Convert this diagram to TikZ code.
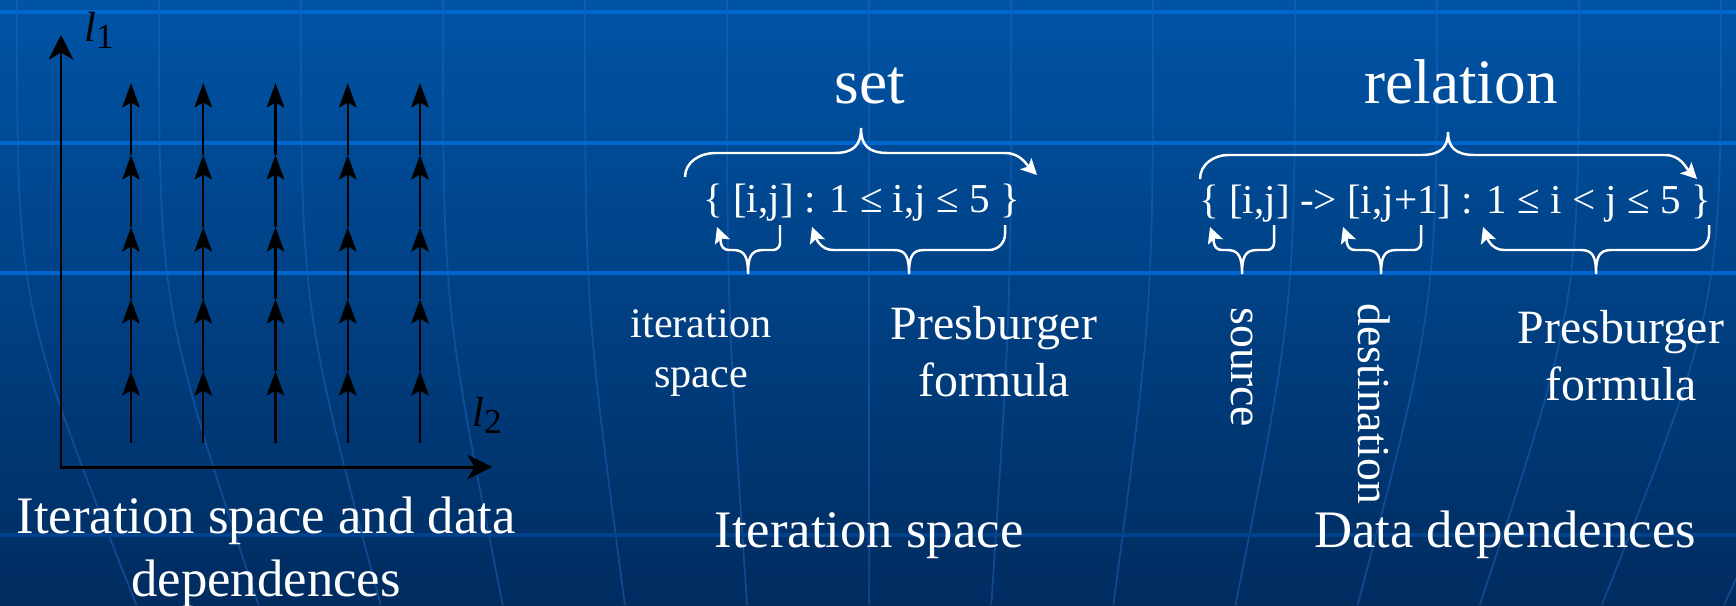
\documentclass[tikz,border=0pt]{standalone}
\usepackage{fontspec}
\setmainfont{Liberation Serif}
\usetikzlibrary{arrows.meta}

\definecolor{bgtop}{RGB}{0,84,166}
\definecolor{bgbottom}{RGB}{0,44,96}
\definecolor{gridblue}{RGB}{0,102,206}
\definecolor{curveblue}{RGB}{30,100,190}

\begin{document}
\begin{tikzpicture}[every node/.style={text=white, inner sep=0pt},
    axis/.style={line width=0.85pt, {Stealth[length=7pt,width=7pt,inset=2pt]}-{Stealth[length=7pt,width=7pt,inset=2pt]}},
    dep/.style={line width=0.65pt, -{Stealth[length=7pt,width=5pt,inset=1.5pt]}},
    brace/.style={white, line width=0.7pt, -{Stealth[length=4.5pt,width=4.5pt,inset=1pt]}},
    title/.style={anchor=base, font=\fontsize{18}{21}\selectfont},
    formula/.style={anchor=base, font=\fontsize{11.7}{14}\selectfont},
    caption/.style={font=\fontsize{15}{18}\selectfont},
    note/.style={anchor=north, align=center}]
    % background
    \useasboundingbox (0,0) rectangle (17.36,6.05);
    \shade[top color=bgtop, bottom color=bgbottom] (0,0) rectangle (17.36,6.05);
    \begin{scope}
        \clip (0,0) rectangle (17.36,6.05);
        \foreach \k in {0,...,13} {
            \pgfmathsetmacro\xt{0.17+1.42*\k}
            \pgfmathsetmacro\xb{\xt+0.14*(8.7-\xt)}
            \draw[curveblue, opacity=0.5, line width=0.5pt] (\xt,6.05) .. controls (\xt,3.0) .. (\xb,0);
        }
    \end{scope}
    \foreach \y in {5.93,4.62,3.32}
        \draw[gridblue, line width=1.1pt] (0,\y) -- (17.36,\y);
    \draw[gridblue!40!bgbottom, line width=1pt] (0,0.70) -- (17.36,0.70);

    % axes
    \coordinate (O) at (0.61,1.38);
    \coordinate (l1end) at (0.61,5.70);
    \coordinate (l2end) at (4.92,1.38);
    \draw[axis] (l1end) -- (O) -- (l2end);
    \node[text=black, font=\fontsize{12}{14}\selectfont] (l1) at (0.99,5.75) {\textit{l}\raisebox{-0.35ex}{\fontsize{10}{10}\selectfont 1}};
    \node[text=black, font=\fontsize{12}{14}\selectfont] (l2) at (4.87,1.90) {\textit{l}\raisebox{-0.35ex}{\fontsize{10}{10}\selectfont 2}};

    % iteration points and dependences
    \foreach \i in {1,...,5}
        \foreach \j in {0,...,5}
            \coordinate (p\i\j) at ({1.31+0.7225*(\i-1)},{1.62+0.72*\j});
    \foreach \i in {1,...,5}
        \foreach \j [count=\k from 1] in {0,...,4}
            \draw[dep] (p\i\j) -- (p\i\k);

    % set
    \node[title] (set) at (8.70,5.02) {set};
    \node[formula] (setf) at (8.615,3.93) {\{ [i,j] : 1 ≤ i,j ≤ 5 \}};
    \coordinate (setL) at (6.85,4.28);
    \coordinate (setR) at (10.37,4.30);
    \draw[brace] (setL) to[out=90,in=180] (7.15,4.52) -- (8.34,4.52) .. controls (8.54,4.52) and (8.61,4.60) .. (8.61,4.77)
        .. controls (8.61,4.60) and (8.68,4.52) .. (8.88,4.52) -- (10.05,4.52) to[out=0,in=135] (setR);

    % relation
    \node[title] (rel) at (14.61,5.02) {relation};
    \node[formula] (relf) at (14.55,3.92) {\{ [i,j] -> [i,j+1] : 1 ≤ i < j ≤ 5 \}};
    \coordinate (relL) at (12.00,4.26);
    \coordinate (relR) at (16.97,4.26);
    \draw[brace] (relL) to[out=90,in=180] (12.28,4.50) -- (14.21,4.50) .. controls (14.41,4.50) and (14.48,4.58) .. (14.48,4.73)
        .. controls (14.48,4.58) and (14.55,4.50) .. (14.75,4.50) -- (16.65,4.50) to[out=0,in=135] (relR);

    % parts of the formulas
    \foreach \nm/\t/\c/\e/\rad in {iter/7.17/7.48/7.80/0.07, spres/8.12/9.09/10.05/0.16,
            src/12.10/12.42/12.74/0.07, dst/13.43/13.81/14.21/0.07, rpres/14.83/15.96/17.09/0.16} {
        \coordinate (\nm-tip) at (\t,3.78);
        \coordinate (\nm-end) at (\e,3.80);
        \draw[brace] (\nm-end) -- (\e,3.55+\rad) to[out=-90,in=0] (\e-\rad,3.55) -- (\c+0.15,3.55)
            .. controls (\c+0.03,3.55) and (\c,3.48) .. (\c,3.31) .. controls (\c,3.48) and (\c-0.03,3.55) .. (\c-0.15,3.55)
            -- (\t+\rad+0.05,3.55) to[out=180,in=-70] (\nm-tip);
    }
    \node[note, font=\fontsize{12}{14.2}\selectfont] (itlab) at (7.01,2.96) {iteration\\space};
    \node[note, font=\fontsize{13.6}{16}\selectfont] (splab) at (9.94,2.99) {Presburger\\formula};
    \node[anchor=west, rotate=-90, font=\fontsize{13}{15}\selectfont] (srclab) at (12.42,2.98) {source};
    \node[anchor=west, rotate=-90, font=\fontsize{13}{15}\selectfont] (dstlab) at (13.74,3.02) {destination};
    \node[note, font=\fontsize{13.6}{16}\selectfont] (rplab) at (16.21,2.95) {Presburger\\formula};

    % captions
    \node[caption, note] (cap1) at (2.66,1.09) {Iteration space and data\\dependences};
    \node[caption, anchor=base] (cap2) at (8.69,0.58) {Iteration space};
    \node[caption, anchor=base] (cap3) at (15.05,0.58) {Data dependences};
\end{tikzpicture}
\end{document}
